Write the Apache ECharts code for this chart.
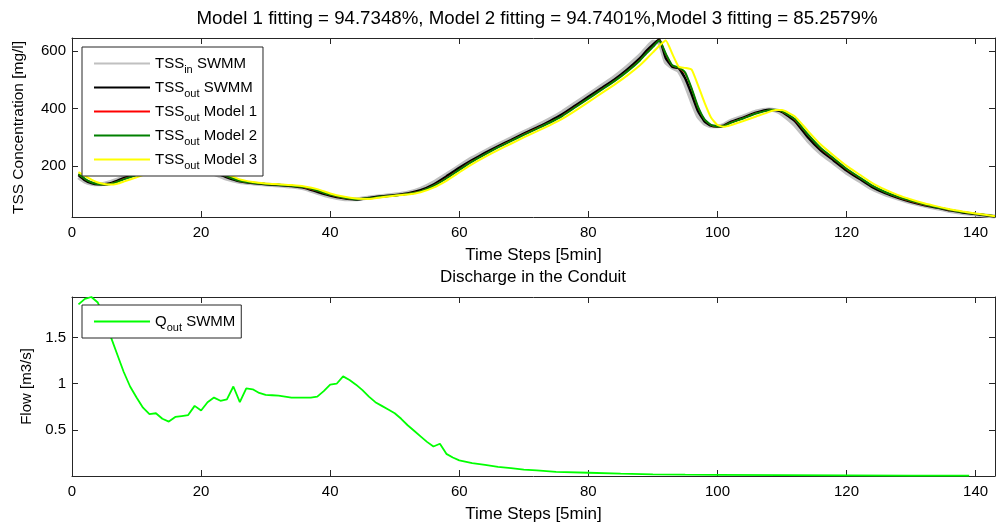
<!DOCTYPE html>
<html><head><meta charset="utf-8">
<script src="https://cdn.jsdelivr.net/npm/echarts@6/dist/echarts.min.js"></script>
<style>html,body{margin:0;padding:0;background:#fff}#c{width:996px;height:527px}</style>
</head><body><div id="c"></div>
<script>
// ---- data ----
const steps = [1,2,3,4,5,6,7,8,10,12,14,16,18,20,22,24,26,28,30,32,34,36,38,40,42,44,46,48,50,52,54,56,58,60,62,64,66,68,70,72,74,76,78,80,82,84,86,88,89,90,91,92,93,94,95,96,97,98,99,100,101,102,104,106,108,109,110,112,114,116,118,120,122,124,126,128,130,132,134,136,138,140,143];
const tssInSWMM  = [160,145,138,136,138,144,152,161,176,188,196,198,194,185,172,155,144,139,135,132,128,121,106,93,85,84,90,95,100,107,120,142,170,199,227,251,274,296,318,339,362,388,418,448,478,509,545,585,610,632,628,560,542,530,485,425,372,347,338,338,343,356,372,389,396,392,380,342,288,244,210,176,148,120,101,86,72,62,52,43,36,31,24];
const tssOutSWMM = [168,150,140,136,136,140,148,157,172,185,194,198,196,189,178,160,146,140,136,133,130,124,110,97,88,83,88,94,98,104,115,135,163,193,220,245,268,290,312,333,355,380,410,440,470,500,535,575,600,622,640,575,545,540,505,450,390,355,340,337,340,352,368,385,395,394,388,356,300,254,219,184,155,126,105,89,75,64,55,45,38,32,24];
const tssModel1  = [171,154,143,137,135,138,145,154,169,183,193,197,197,190,180,163,147,141,137,134,131,125,113,99,89,84,87,93,97,103,112,131,157,187,216,241,265,287,309,330,351,375,405,435,465,495,529,568,593,615,637,588,549,541,522,468,403,361,342,337,339,350,366,383,394,395,390,361,308,260,224,189,159,130,108,91,77,65,56,46,39,33,25];
const tssModel2  = [172,155,143,137,135,137,144,153,168,182,192,197,197,191,181,164,148,141,137,134,131,126,114,100,90,84,87,93,97,102,111,130,156,186,215,240,264,286,308,329,350,374,404,434,464,494,528,567,592,614,636,590,550,542,525,470,405,362,343,337,339,349,365,382,394,395,391,363,310,262,226,190,160,131,109,92,78,66,56,47,39,33,25];
const tssModel3  = [178,165,152,142,137,135,138,145,160,176,188,195,198,194,185,170,153,144,139,136,133,128,119,104,93,86,85,91,96,100,108,124,148,177,206,231,255,277,299,320,341,364,392,422,452,482,514,550,572,595,618,636,590,545,541,535,480,420,368,342,336,341,356,372,388,394,394,372,322,274,236,200,170,140,117,98,83,70,59,49,41,34,25];

const qSteps   = [1,2,3,4,5,6,7,8,9,10,11,12,13,14,15,16,17,18,19,20,21,22,23,24,25,26,27,28,29,30,31,32,33,34,35,36,37,38,39,40,41,42,43,44,45,46,47,48,49,50,51,52,53,54,55,56,57,58,59,60,62,64,66,68,70,72,75,80,85,90,95,100,110,120,130,139];
const qOutSWMM = [1.86,1.92,1.94,1.88,1.72,1.51,1.32,1.13,0.97,0.85,0.74,0.67,0.68,0.62,0.59,0.64,0.65,0.66,0.76,0.71,0.80,0.85,0.815,0.83,0.97,0.80,0.95,0.94,0.90,0.88,0.875,0.87,0.86,0.85,0.85,0.85,0.85,0.86,0.92,0.99,1.00,1.08,1.04,0.99,0.93,0.86,0.80,0.76,0.72,0.68,0.62,0.55,0.49,0.43,0.37,0.32,0.35,0.24,0.20,0.17,0.14,0.12,0.10,0.085,0.07,0.06,0.045,0.035,0.025,0.018,0.014,0.012,0.009,0.007,0.005,0.004];

const xTicks = [0,20,40,60,80,100,120,140];
const tssTicks = [200,400,600];
const flowTicks = [0.5,1,1.5];
const mainTitle = 'Model 1 fitting = 94.7348%, Model 2 fitting = 94.7401%,Model 3 fitting = 85.2579%';
const subTitle = 'Discharge in the Conduit';
const xName = 'Time Steps [5min]';
const tssName = 'TSS Concentration [mg/l]';
const flowName = 'Flow [m3/s]';
const legendTop = [
  {name:'TSSin SWMM', sub:'in', rest:' SWMM'},
  {name:'TSSout SWMM', sub:'out', rest:' SWMM'},
  {name:'TSSout Model 1', sub:'out', rest:' Model 1'},
  {name:'TSSout Model 2', sub:'out', rest:' Model 2'},
  {name:'TSSout Model 3', sub:'out', rest:' Model 3'}
];

// ---- chart ----
const FONT = 'Liberation Sans, Arial, sans-serif';
const AX = '#262626';
const chart = echarts.init(document.getElementById('c'), null, {renderer:'canvas'});
const pairs = (xs, ys) => xs.map((x,i)=>[x, ys[i]]);
const grids = [
  {left:72, right:1, top:38, height:179},
  {left:72, right:1, top:297, height:179}
];
function xAx(gi, pos, labels){
  return {type:'value', gridIndex:gi, position:pos, min:0, max:143,
    axisLine:{show:true, onZero:false, lineStyle:{color:AX, width:1}},
    axisTick:{show:true, inside:true, length:6, customValues:xTicks, lineStyle:{color:AX}},
    axisLabel:{show:labels, customValues:xTicks, margin:8, color:'#000', fontSize:15, fontFamily:FONT},
    splitLine:{show:false},
    name: labels ? xName : '', nameLocation:'middle', nameGap:30,
    nameTextStyle:{color:'#000', fontSize:17, fontFamily:FONT}};
}
function yAx(gi, pos, labels, min, max, ticks, name, gap, nfs){
  return {type:'value', gridIndex:gi, position:pos, min:min, max:max,
    axisLine:{show:true, onZero:false, lineStyle:{color:AX, width:1}},
    axisTick:{show:true, inside:true, length:6, customValues:ticks, lineStyle:{color:AX}},
    axisLabel:{show:labels, customValues:ticks, margin:6, color:'#000', fontSize:15, fontFamily:FONT},
    splitLine:{show:false},
    name: labels ? name : '', nameLocation:'middle', nameGap:gap,
    nameTextStyle:{color:'#000', fontSize:nfs || 15, fontFamily:FONT}};
}
const rich = {
  m:{fontSize:15, fontFamily:FONT, color:'#000', lineHeight:14},
  s:{fontSize:11, fontFamily:FONT, color:'#000', lineHeight:10, padding:[12,0,0,0]}
};
function fmt(name){
  const e = legendTop.find(o=>o.name===name);
  if (e) return '{m|TSS}{s|'+e.sub+'}{m|'+e.rest+'}';
  return '{m|Q}{s|out}{m| SWMM}';
}
const legendBase = {orient:'vertical', itemWidth:56, itemHeight:12, itemGap:1,
  backgroundColor:'#fff', borderColor:AX, borderWidth:1, borderRadius:0,
  itemStyle:{opacity:0}, lineStyle:{opacity:1},
  selectedMode:false, formatter:fmt, textStyle:{rich:rich}};

const lineSeries = (name, ys, color, w) => ({name:name, type:'line', xAxisIndex:0, yAxisIndex:0,
  data:pairs(steps, ys), showSymbol:false, symbol:'none', animation:false,
  smooth:0.15,
  lineStyle:{color:color, width:w}, itemStyle:{color:color}});

chart.setOption({
  animation:false,
  textStyle:{fontFamily:FONT},
  grid:grids,
  xAxis:[xAx(0,'bottom',true), xAx(1,'bottom',true), xAx(0,'top',false), xAx(1,'top',false)],
  yAxis:[yAx(0,'left',true,22,645,tssTicks,tssName,45,15.5), yAx(1,'left',true,0,1.94,flowTicks,flowName,38,15),
         yAx(0,'right',false,22,645,tssTicks,'',0), yAx(1,'right',false,0,1.94,flowTicks,'',0)],
  legend:[
    Object.assign({}, legendBase, {data:legendTop.map(o=>o.name), left:82, top:47, padding:[5,6,5,11]}),
    Object.assign({}, legendBase, {data:['Qout SWMM'], left:82, top:305, padding:[5,6,5,11]})
  ],
  graphic:[
    {type:'text', x:537, y:19, style:{text:mainTitle, align:'center', verticalAlign:'middle', fill:'#000', font:'18.7px '+FONT}},
    {type:'text', x:533, y:277, style:{text:subTitle, align:'center', verticalAlign:'middle', fill:'#000', font:'17px '+FONT}}
  ],
  series:[
    lineSeries('TSSin SWMM', tssInSWMM, '#c0c0c0', 4),
    lineSeries('TSSout SWMM', tssOutSWMM, '#000000', 2.5),
    lineSeries('TSSout Model 1', tssModel1, '#ff0000', 1.5),
    lineSeries('TSSout Model 2', tssModel2, '#008000', 2),
    lineSeries('TSSout Model 3', tssModel3, '#ffff00', 2),
    {name:'Qout SWMM', type:'line', xAxisIndex:1, yAxisIndex:1, data:pairs(qSteps, qOutSWMM),
     showSymbol:false, symbol:'none', lineStyle:{color:'#00ff00', width:1.8}, itemStyle:{color:'#00ff00'}}
  ]
});
</script></body></html>
